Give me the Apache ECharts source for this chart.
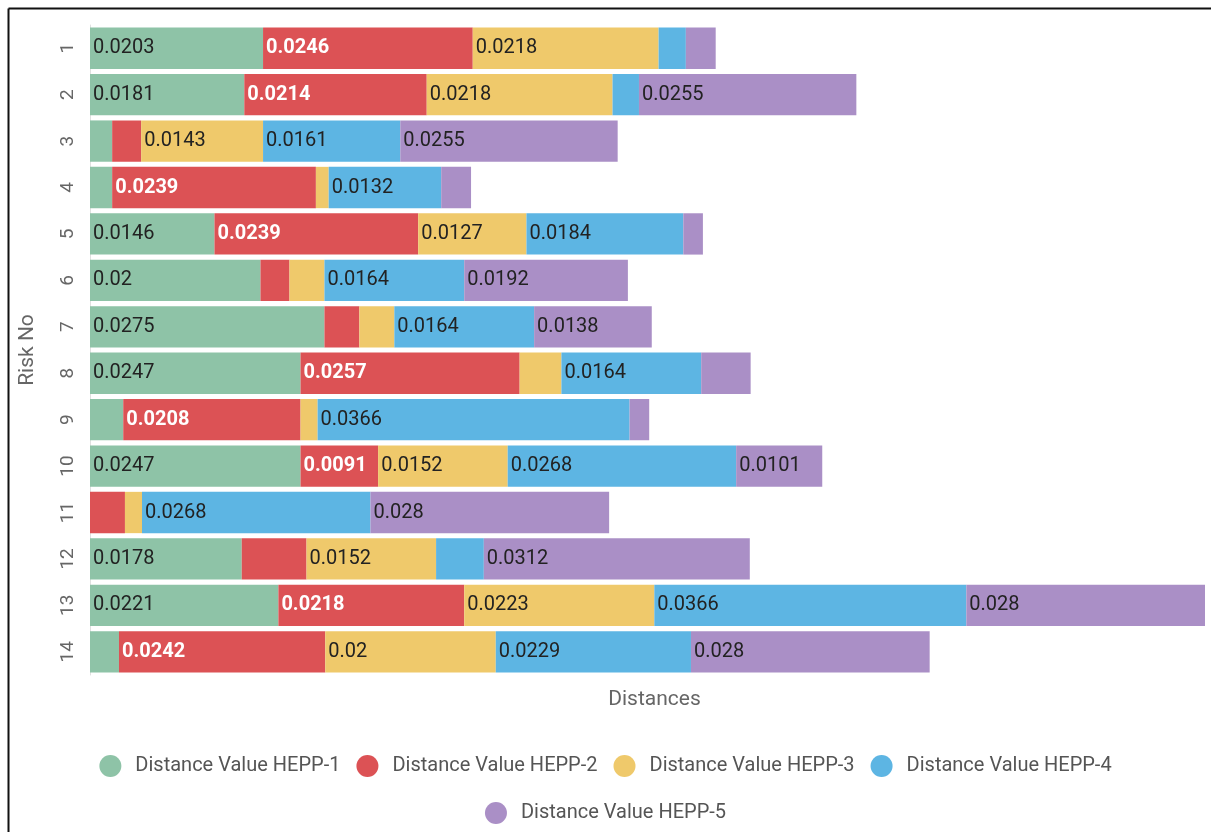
<!DOCTYPE html>
<html>
<head>
<meta charset="utf-8">
<script src="https://cdn.jsdelivr.net/npm/echarts@6/dist/echarts.min.js"></script>
<style>
html,body{margin:0;padding:0;background:#fff;}
#chart{width:1211px;height:832px;}
</style>
</head>
<body>
<div id="chart"></div>
<script>
const categories = ['1','2','3','4','5','6','7','8','9','10','11','12','13','14'];
const seriesNames = ['Distance Value HEPP-1','Distance Value HEPP-2','Distance Value HEPP-3','Distance Value HEPP-4','Distance Value HEPP-5'];
const hepp1 = [0.0203,0.0181,0.0026,0.0026,0.0146,0.02,0.0275,0.0247,0.0039,0.0247,0,0.0178,0.0221,0.0034];
const hepp2 = [0.0246,0.0214,0.0034,0.0239,0.0239,0.0034,0.0041,0.0257,0.0208,0.0091,0.0041,0.0076,0.0218,0.0242];
const hepp3 = [0.0218,0.0218,0.0143,0.0015,0.0127,0.0041,0.0041,0.0049,0.002,0.0152,0.002,0.0152,0.0223,0.02];
const hepp4 = [0.0032,0.0031,0.0161,0.0132,0.0184,0.0164,0.0164,0.0164,0.0366,0.0268,0.0268,0.0056,0.0366,0.0229];
const hepp5 = [0.0035,0.0255,0.0255,0.0035,0.0023,0.0192,0.0138,0.0058,0.0023,0.0101,0.028,0.0312,0.028,0.028];
const colors = ['#8ec3a7','#dc5255','#efc96b','#5db5e3','#aa8fc6'];
const allData = [hepp1,hepp2,hepp3,hepp4,hepp5];

const FONT = 'Roboto, "Noto Sans", sans-serif';
const chart = echarts.init(document.getElementById('chart'), null, {renderer:'canvas'});

const series = allData.map((d,i)=>({
  name: seriesNames[i],
  type: 'bar',
  stack: 'total',
  barCategoryGap: '11%',
  data: d,
  itemStyle: {color: colors[i]},
  label: {
    show: true,
    position: 'insideLeft',
    distance: 3,
    fontFamily: FONT,
    fontSize: 20,
    color: i === 1 ? '#ffffff' : '#222222',
    fontWeight: i === 1 ? 'bold' : 'normal',
    formatter: p => (p.value >= 0.0085 ? String(p.value) : '')
  },
  emphasis: {disabled: true}
}));

const legendBase = {
  left: 'center',
  icon: 'circle',
  itemWidth: 22,
  itemHeight: 22,
  itemGap: 16,
  textStyle: {fontFamily: FONT, fontSize: 20, color: '#555', padding: [0,0,0,9]}
};

const option = {
  animation: false,
  color: colors,
  textStyle: {fontFamily: FONT},
  grid: {left: 90, right: 6, top: 25, bottom: 157, containLabel: false},
  xAxis: {
    type: 'value',
    min: 0,
    max: 'dataMax',
    name: 'Distances',
    nameLocation: 'middle',
    nameGap: 14,
    nameTextStyle: {fontFamily: FONT, fontSize: 21, color: '#666', verticalAlign: 'top', padding: [0,0,0,14]},
    axisLabel: {show: false},
    axisLine: {show: false},
    axisTick: {show: false},
    splitLine: {show: false}
  },
  yAxis: {
    type: 'category',
    data: categories,
    inverse: true,
    name: 'Risk No',
    nameLocation: 'middle',
    nameRotate: 90,
    nameGap: 52,
    nameTextStyle: {fontFamily: FONT, fontSize: 21, color: '#666'},
    axisLine: {show: true, lineStyle: {color: '#e0e0e0', width: 1}},
    axisTick: {show: false},
    axisLabel: {rotate: 90, margin: 12, fontFamily: FONT, fontSize: 19, color: '#666'},
    splitLine: {show: false}
  },
  legend: [
    Object.assign({}, legendBase, {data: seriesNames.slice(0,4), top: 750}),
    Object.assign({}, legendBase, {data: seriesNames.slice(4), top: 797})
  ],
  graphic: [
    {type: 'line', silent: true, shape: {x1: 8.5, y1: 8.5, x2: 1211, y2: 8.5}, style: {stroke: '#111', lineWidth: 2}},
    {type: 'line', silent: true, shape: {x1: 8.5, y1: 8.5, x2: 8.5, y2: 832}, style: {stroke: '#111', lineWidth: 2}}
  ],
  series: series
};
chart.setOption(option);
</script>
</body>
</html>
